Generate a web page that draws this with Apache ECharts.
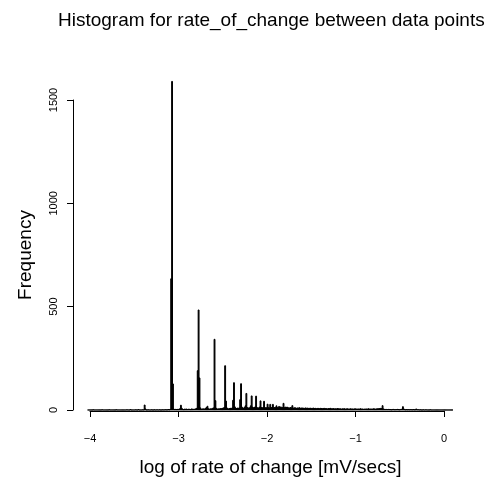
<!DOCTYPE html>
<html><head><meta charset="utf-8">
<script src="https://cdn.jsdelivr.net/npm/echarts@6/dist/echarts.min.js"></script>
<style>html,body{margin:0;padding:0;background:#fff}#c{width:496px;height:482px}</style>
</head><body><div id="c"></div>
<script>
// Histogram bins: width 0.01, first break at -4.03
var binStart = -4.03;
var binWidth = 0.01;
var counts = [
0,0,0,0,0,0,1,0,0,0,0,0,0,0,0,0,1,0,0,0,
0,0,0,0,1,0,0,0,0,0,0,0,1,0,0,0,0,0,0,0,
0,0,0,0,1,0,0,0,2,0,0,0,0,0,1,0,0,2,0,0,
0,0,1,0,24,5,0,0,1,0,0,0,1,0,0,1,0,0,1,0,
0,1,0,0,1,0,1,0,2,0,1,2,1,3,635,1590,126,4,2,3,
2,3,2,4,6,23,8,3,2,4,3,5,2,3,4,3,2,5,4,3,
4,3,6,8,190,484,155,10,4,3,6,4,5,8,12,18,6,4,5,6,
5,8,10,342,45,8,5,4,6,5,7,6,8,9,12,214,43,10,6,5,
7,8,6,10,47,132,15,8,7,9,8,10,50,127,14,8,9,12,20,80,
12,9,10,11,20,68,14,10,12,15,67,12,9,10,14,44,12,10,12,42,
12,10,11,28,11,10,27,12,11,27,10,12,11,20,12,10,17,11,15,10,
12,32,11,14,12,14,10,11,9,12,10,21,9,10,11,9,8,10,9,11,
8,9,10,8,9,7,10,8,9,8,7,9,8,7,8,9,7,8,6,7,
8,7,6,8,7,6,7,8,6,7,6,5,7,6,8,6,5,7,6,5,
6,5,7,6,5,6,5,4,6,5,6,4,5,6,5,4,5,6,4,5,
4,5,6,4,5,4,5,4,6,4,5,4,3,5,4,5,4,6,4,5,
4,5,4,6,5,4,5,6,5,7,6,8,7,21,5,3,2,3,2,2,
3,2,2,1,2,3,2,1,2,2,3,2,1,2,3,4,16,5,2,1,
2,1,2,1,1,2,1,1,2,1,1,5,1,1,1,0,1,0,0,1,
0,0,1,0,0,0,0,1,0,0,0,0,0,0,0,0,0,0,0,0,
0,0,0,0,0,0,0,0,0,0,0,0,0
];
var xTicks = [-4, -3, -2, -1, 0];
var yTicks = [0, 500, 1000, 1500];
var titleText = 'Histogram for rate_of_change between data points';
var xLabel = 'log of rate of change [mV/secs]';
var yLabel = 'Frequency';

var data = counts.map(function (c, i) {
  var l = +(binStart + i * binWidth).toFixed(4);
  return [l, +(l + binWidth).toFixed(4), c];
});

var FONT = 'Liberation Sans, Arial, Helvetica, sans-serif';
var chart = echarts.init(document.getElementById('c'), null, {renderer: 'canvas'});
chart.setOption({
  animation: false,
  backgroundColor: '#ffffff',
  title: {
    text: titleText, left: 53, top: 6,
    textStyle: {fontFamily: FONT, fontSize: 19, fontWeight: 'normal', color: '#000'}
  },
  grid: [
    {left: 73, right: 28.5, top: 68, bottom: 59},
    {left: 90, right: 52, top: 68, bottom: 59},
    {left: 73, right: 28.5, top: 100, bottom: 72}
  ],
  xAxis: [
    {gridIndex: 0, type: 'value', min: -4.195, max: 0.265, show: false},
    {gridIndex: 1, type: 'value', min: xTicks[0], max: xTicks[xTicks.length - 1], interval: 1,
     axisLine: {show: true, lineStyle: {color: '#000', width: 1}},
     axisTick: {show: true, length: 6, lineStyle: {color: '#000'}},
     splitLine: {show: false},
     axisLabel: {color: '#000', fontFamily: FONT, fontSize: 11, margin: 22,
       formatter: function (v) { return String(v).replace('-', '\u2212'); }},
     name: xLabel, nameLocation: 'middle', nameGap: 47,
     nameTextStyle: {fontFamily: FONT, fontSize: 19, color: '#000', padding: [0, 0, 0, 7]}},
    {gridIndex: 2, type: 'value', show: false}
  ],
  yAxis: [
    {gridIndex: 0, type: 'value', min: -63, max: 1655, show: false},
    {gridIndex: 1, type: 'value', show: false},
    {gridIndex: 2, type: 'value', min: yTicks[0], max: yTicks[yTicks.length - 1], interval: 500,
     axisLine: {show: true, lineStyle: {color: '#000', width: 1}},
     axisTick: {show: true, length: 6, lineStyle: {color: '#000'}},
     splitLine: {show: false},
     axisLabel: {color: '#000', fontFamily: FONT, fontSize: 11, margin: 14, rotate: 90,
       align: 'center', verticalAlign: 'bottom',
       formatter: function (v) { return String(v); }},
     name: yLabel, nameLocation: 'middle', nameGap: 38, nameRotate: 90,
     nameTextStyle: {fontFamily: FONT, fontSize: 19, color: '#000'}}
  ],
  series: [{
    type: 'custom',
    xAxisIndex: 0, yAxisIndex: 0,
    data: data,
    renderItem: function (params, api) {
      var p0 = api.coord([api.value(0), api.value(2)]);
      var p1 = api.coord([api.value(1), 0]);
      return {
        type: 'rect',
        shape: {x: p0[0], y: p0[1], width: p1[0] - p0[0], height: p1[1] - p0[1]},
        style: {fill: '#000', stroke: '#000', lineWidth: 1}
      };
    }
  }]
});
</script></body></html>
